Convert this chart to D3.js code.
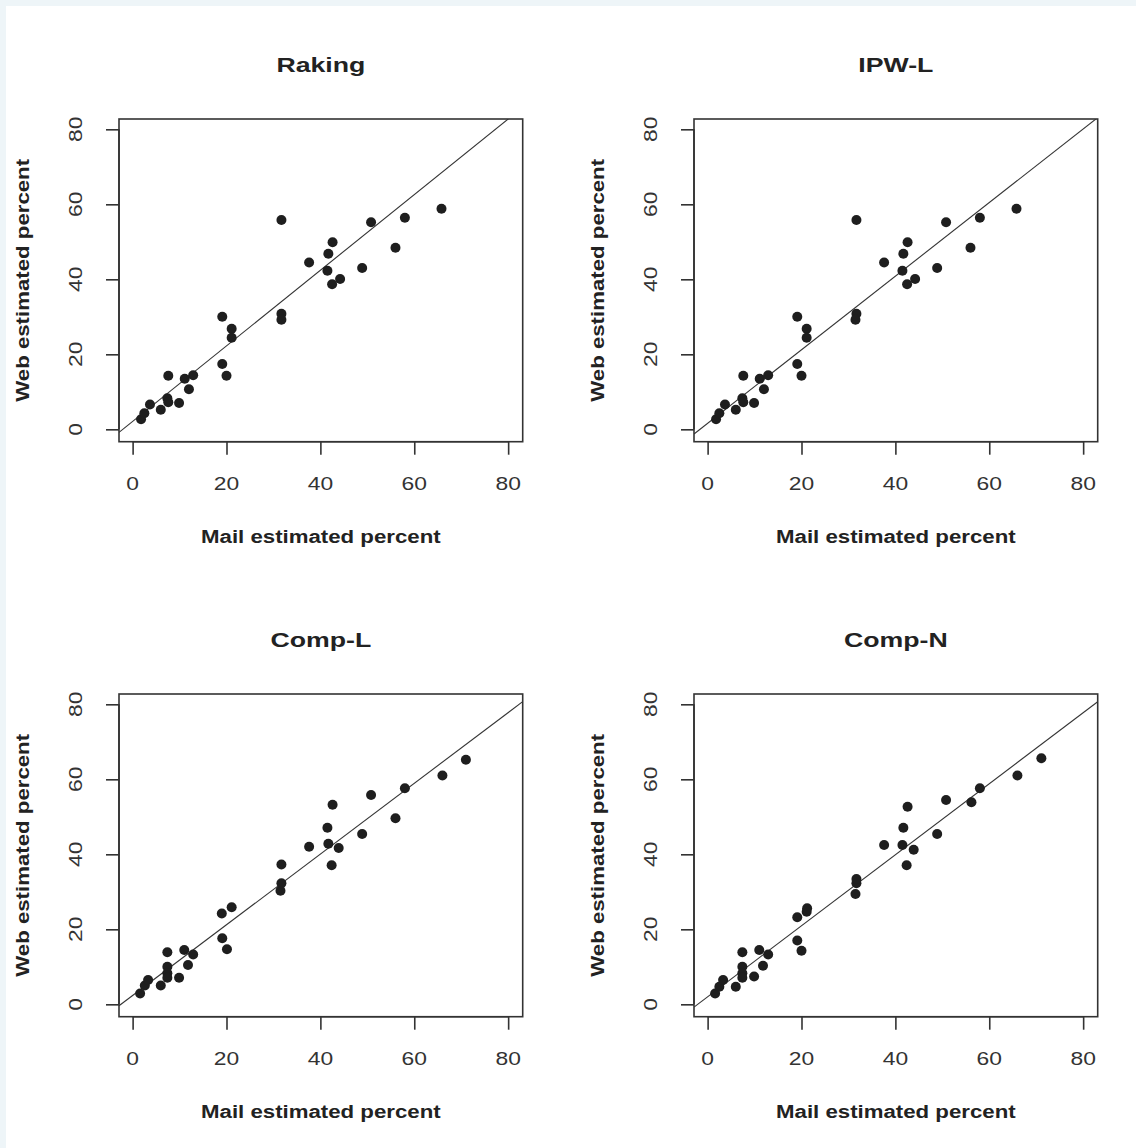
<!DOCTYPE html>
<html><head><meta charset="utf-8">
<script src="https://cdn.jsdelivr.net/npm/d3@7"></script>
<style>body{margin:0;background:#fff}</style>
</head><body><svg id="c" width="1136" height="1148"></svg>
<script>
const panelTitles = ["Raking", "IPW-L", "Comp-L", "Comp-N"];
const xAxisTitle = "Mail estimated percent";
const yAxisTitle = "Web estimated percent";
const tickValues = [0, 20, 40, 60, 80];

const rakingMail = [1.8, 2.5, 3.7, 6.0, 7.4, 7.6, 7.6, 9.9, 11.1, 12.0, 12.9, 19.1, 20.0, 19.1, 21.1, 21.1, 31.7, 31.7, 31.7, 37.6, 41.5, 41.7, 42.6, 42.5, 44.2, 48.9, 50.8, 56.0, 58.0, 65.8];
const rakingWeb  = [2.7, 4.3, 6.6, 5.2, 8.3, 7.2, 14.3, 7.0, 13.5, 10.7, 14.4, 17.4, 14.3, 30.0, 26.8, 24.4, 55.8, 30.8, 29.2, 44.5, 42.3, 46.8, 49.9, 38.7, 40.1, 43.0, 55.2, 48.4, 56.4, 58.8];

const ipwMail = [1.8, 2.5, 3.7, 6.0, 7.4, 7.6, 7.6, 9.9, 11.1, 12.0, 12.9, 19.1, 20.0, 19.1, 21.1, 21.1, 31.7, 31.7, 31.5, 37.6, 41.5, 41.7, 42.6, 42.5, 44.2, 48.9, 50.8, 56.0, 58.0, 65.8];
const ipwWeb  = [2.7, 4.3, 6.6, 5.2, 8.3, 7.2, 14.3, 7.0, 13.5, 10.7, 14.4, 17.4, 14.3, 30.0, 26.8, 24.4, 55.8, 30.8, 29.2, 44.5, 42.3, 46.8, 49.9, 38.7, 40.1, 43.0, 55.2, 48.4, 56.4, 58.8];

const compLMail = [1.6, 2.6, 3.3, 6.0, 7.4, 7.4, 7.4, 7.4, 9.9, 11.0, 11.8, 12.9, 19.0, 19.1, 20.1, 21.1, 31.5, 31.7, 31.7, 37.6, 41.5, 41.7, 42.4, 42.6, 43.9, 48.9, 50.8, 56.0, 58.0, 66.0, 71.0];
const compLWeb  = [2.9, 5.0, 6.5, 5.0, 13.9, 10.0, 8.3, 7.1, 7.1, 14.5, 10.5, 13.3, 24.2, 17.6, 14.7, 25.9, 30.3, 32.3, 37.3, 42.0, 47.1, 42.8, 37.1, 53.2, 41.7, 45.4, 55.8, 49.6, 57.6, 61.0, 65.2];

const compNMail = [1.6, 2.5, 3.3, 6.0, 7.4, 7.4, 7.4, 7.4, 9.9, 11.0, 11.8, 12.9, 19.1, 19.1, 20.0, 21.1, 21.2, 31.5, 31.7, 31.7, 37.6, 41.5, 41.7, 42.4, 42.6, 43.9, 48.9, 50.8, 56.2, 58.0, 66.0, 71.1];
const compNWeb  = [2.9, 4.7, 6.5, 4.7, 13.9, 10.0, 8.3, 7.1, 7.4, 14.5, 10.3, 13.3, 23.2, 17.0, 14.3, 24.7, 25.6, 29.4, 32.3, 33.4, 42.5, 42.5, 47.1, 37.1, 52.7, 41.2, 45.4, 54.5, 53.9, 57.6, 61.0, 65.6];

const lineIntercepts = [2.1, 1.6, 2.35, 2.0];
const lineSlopes = [1.008, 0.981, 0.943, 0.947];

const panelMail = [rakingMail, ipwMail, compLMail, compNMail];
const panelWeb = [rakingWeb, ipwWeb, compLWeb, compNWeb];

const svg = d3.select("#c");
svg.append("rect").attr("width", 1136).attr("height", 1148).attr("fill", "#eef5f8");
svg.append("rect").attr("x", 6).attr("y", 6).attr("width", 1130).attr("height", 1142).attr("fill", "#fff");

const STRETCH = 1.27;
const xDomain = [-2.9, 83.1], yDomain = [-3.3, 82.75];
const boxL = 119, boxR = 522.7, boxT = 119, boxB = 441.7;
const offsets = [[0, 0], [575, 0], [0, 575], [575, 575]];

function stretchedText(g, x, y, rot, txt, size, weight, color) {
  return g.append("text")
    .attr("transform", `translate(${x},${y}) rotate(${rot}) scale(${STRETCH},1)`)
    .attr("text-anchor", "middle")
    .attr("font-family", "'Liberation Sans', Arial, sans-serif")
    .attr("font-size", size).attr("font-weight", weight)
    .attr("fill", color).text(txt);
}

panelTitles.forEach((title, i) => {
  const [ox, oy] = offsets[i];
  const g = svg.append("g").attr("transform", `translate(${ox},${oy})`);
  const x = d3.scaleLinear().domain(xDomain).range([boxL, boxR]);
  const y = d3.scaleLinear().domain(yDomain).range([boxB, boxT]);

  const clipId = "clip" + i;
  g.append("clipPath").attr("id", clipId).append("rect")
    .attr("x", boxL).attr("y", boxT).attr("width", boxR - boxL).attr("height", boxB - boxT);

  const a = lineIntercepts[i], b = lineSlopes[i];
  g.append("line").attr("clip-path", `url(#${clipId})`)
    .attr("x1", x(xDomain[0])).attr("y1", y(a + b * xDomain[0]))
    .attr("x2", x(xDomain[1])).attr("y2", y(a + b * xDomain[1]))
    .attr("stroke", "#333").attr("stroke-width", 1.1);

  const mail = panelMail[i], web = panelWeb[i];
  g.append("g").selectAll("circle").data(mail.map((m, k) => [m, web[k]])).join("circle")
    .attr("cx", d => x(d[0])).attr("cy", d => y(d[1])).attr("r", 5)
    .attr("fill", "#1e1e1e");

  g.append("rect").attr("x", boxL).attr("y", boxT).attr("width", boxR - boxL).attr("height", boxB - boxT)
    .attr("fill", "none").attr("stroke", "#333").attr("stroke-width", 1.6);

  const xa = g.append("g").attr("transform", `translate(0,${boxB})`)
    .call(d3.axisBottom(x).tickValues(tickValues).tickSize(13).tickFormat(""));
  xa.select(".domain").attr("d", `M${x(0)},0H${x(80)}`).attr("stroke", "#333").attr("stroke-width", 1.6);
  xa.selectAll(".tick line").attr("stroke", "#333").attr("stroke-width", 1.6);
  tickValues.forEach(t => stretchedText(g, x(t), 489.8, 0, String(t), 18, "normal", "#333"));

  const ya = g.append("g").attr("transform", `translate(${boxL},0)`)
    .call(d3.axisLeft(y).tickValues(tickValues).tickSize(13).tickFormat(""));
  ya.select(".domain").attr("d", `M0,${y(0)}V${y(80)}`).attr("stroke", "#333").attr("stroke-width", 1.6);
  ya.selectAll(".tick line").attr("stroke", "#333").attr("stroke-width", 1.6);
  tickValues.forEach(t => stretchedText(g, 81.5, y(t), -90, String(t), 18, "normal", "#333"));

  const cx = (boxL + boxR) / 2, cy = (boxT + boxB) / 2;
  stretchedText(g, cx, 71.5, 0, title, 21, "bold", "#222");
  stretchedText(g, cx, 543.3, 0, xAxisTitle, 17.5, "bold", "#222");
  stretchedText(g, 29, cy, -90, yAxisTitle, 17.5, "bold", "#222");
});
</script>
</body></html>
